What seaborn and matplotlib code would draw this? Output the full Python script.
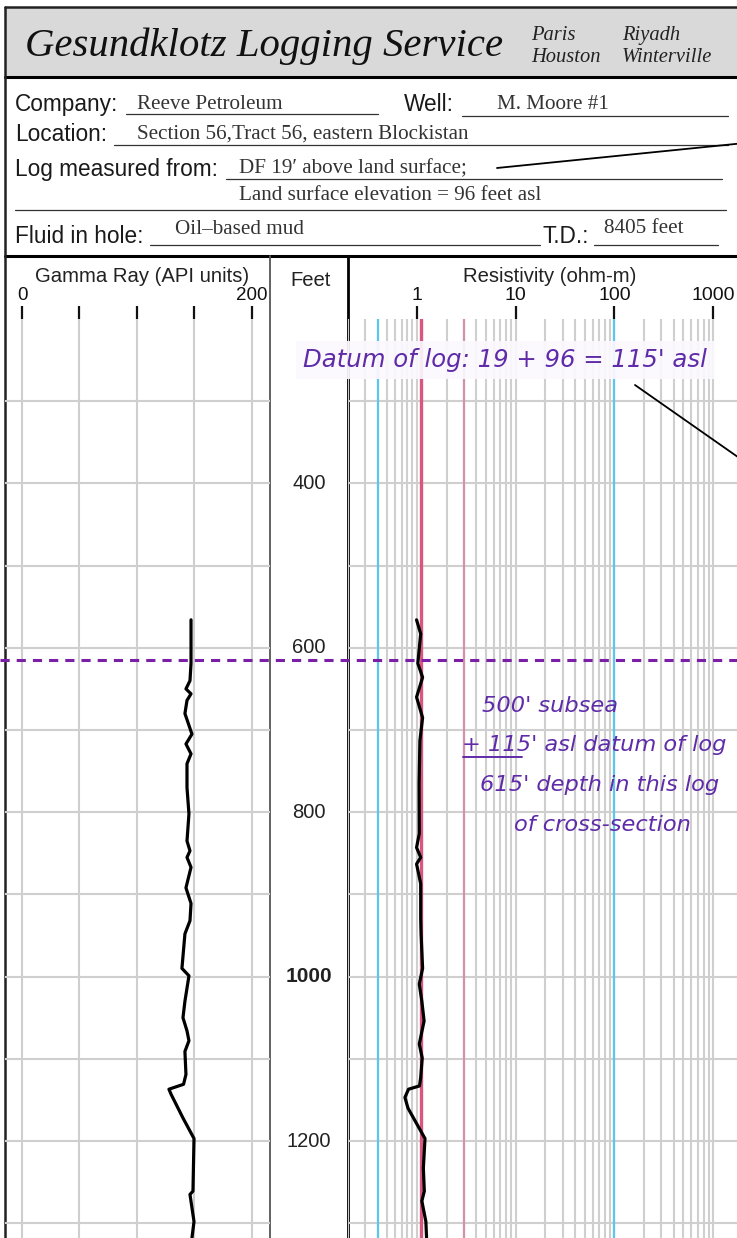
import matplotlib
matplotlib.use('Agg')
import matplotlib.pyplot as plt
import seaborn as sns
from matplotlib.ticker import LogLocator, FixedLocator, NullFormatter
from matplotlib.transforms import blended_transform_factory
from matplotlib.patches import Rectangle

# ---------------- data ----------------
gamma_depth = [566, 619, 640, 650, 656, 664, 680, 705, 717, 729, 741, 770, 802, 835, 847,
               855, 867, 892, 911, 932, 948, 990, 999, 1030, 1050, 1066, 1078, 1091, 1119,
               1131, 1137, 1143, 1172, 1197, 1261, 1265, 1298, 1318]
gamma_api = [147.0, 147.0, 146.1, 142.6, 147.0, 143.5, 141.7, 147.8, 142.6, 147.0, 143.5,
             143.5, 145.2, 143.5, 146.1, 143.5, 147.0, 142.6, 147.0, 146.1, 141.7, 139.1,
             145.2, 141.7, 140.0, 143.5, 145.2, 141.7, 142.6, 140.5, 127.8, 129.6, 140.0,
             149.6, 148.7, 146.1, 149.6, 147.8]
res_depth = [566, 583, 603, 619, 636, 660, 685, 713, 765, 826, 843, 855, 863, 887, 929, 948,
             990, 1009, 1030, 1054, 1082, 1099, 1123, 1133, 1137, 1147, 1160, 1197, 1233,
             1261, 1273, 1298, 1318]
res_ohm = [0.99, 1.09, 1.05, 1.02, 1.14, 0.99, 1.14, 1.07, 1.05, 1.055, 0.99, 1.09, 0.99,
           1.09, 1.09, 1.10, 1.14, 1.055, 1.12, 1.18, 1.055, 1.13, 1.09, 1.06, 0.82, 0.755,
           0.81, 1.205, 1.16, 1.186, 1.12, 1.23, 1.25]

depth_labels = [400, 600, 800, 1000, 1200]
depth_grid = [300, 400, 500, 600, 700, 800, 900, 1000, 1100, 1200, 1300]
depth_range = [200, 1318]
gamma_ticks = [0, 50, 100, 150, 200]
gamma_ticklabels = ['0', '', '', '', '200']
gamma_range = [-14.8, 215.7]
res_ticks = [1, 10, 100, 1000]
res_ticklabels = ['1', '10', '100', '1000']
res_range = [0.2, 1746]
res_ref_cyan = [0.4, 100]
res_ref_red = [1.1]
res_ref_pink = [3]
marker_depth = 615

# ---------------- setup ----------------
sns.set_style('white')
plt.rcParams['font.family'] = ['Liberation Sans', 'DejaVu Sans']
SERIF = ['Liberation Serif', 'DejaVu Serif']
HAND = ['DejaVu Sans']

W, H = 737, 1238
fig = plt.figure(figsize=(W / 100, H / 100), dpi=100)
fig.patch.set_facecolor('white')


def rect(x0, y0, x1, y1):
    return [x0 / W, 1 - y1 / H, (x1 - x0) / W, (y1 - y0) / H]


GRID = '#cfcfcf'
PURPLE_T = '#5f2ba8'
PURPLE_L = '#7a1fa6'

# background / header (pixel coordinates)
bg = fig.add_axes([0, 0, 1, 1], zorder=0)
bg.set_xlim(0, W)
bg.set_ylim(H, 0)
bg.axis('off')

bg.add_patch(Rectangle((5, 7), 760, 70, facecolor='#d9d9d9', edgecolor='none'))
bg.plot([5, W + 5], [7, 7], color='#222222', lw=1.8)
bg.plot([5, W + 5], [77, 77], color='black', lw=2.2)
bg.plot([5, W + 5], [256, 256], color='black', lw=2.2)
bg.plot([5, 5], [7, H], color='#222222', lw=1.8)
bg.plot([270, 270], [256, H], color='#555555', lw=1.3)
bg.plot([348, 348], [256, H], color='black', lw=2.0)

bg.text(25, 56, 'Gesundklotz Logging Service', family=SERIF, style='italic',
        fontsize=29.3, ha='left', va='baseline', color='#111111')
SUB = dict(family=SERIF, style='italic', fontsize=14.8, va='baseline', color='#222222')
bg.text(531, 40, 'Paris', **SUB)
bg.text(531, 62, 'Houston', **SUB)
bg.text(622, 40, 'Riyadh', **SUB)
bg.text(622, 62, 'Winterville', **SUB)

LAB = dict(fontsize=16.3, va='baseline', color='#1a1a1a')
VAL = dict(family=SERIF, fontsize=15.2, va='baseline', color='#333333')
ULINE = dict(color='#333333', lw=0.9)

bg.text(15, 111, 'Company:', **LAB)
bg.text(137, 109, 'Reeve Petroleum', **VAL)
bg.plot([126, 378], [114, 114], **ULINE)
bg.text(404, 111, 'Well:', **LAB)
bg.text(497, 109, 'M. Moore #1', **VAL)
bg.plot([462, 728], [116, 116], **ULINE)

bg.text(15, 141, 'Location:', **LAB)
bg.text(137, 139, 'Section 56,Tract 56, eastern Blockistan', **VAL)
bg.plot([114, 728], [145, 145], **ULINE)

bg.text(15, 176, 'Log measured from:', **LAB)
bg.text(239, 173, 'DF 19\u2032 above land surface;', **VAL)
bg.plot([226, 722], [179, 179], **ULINE)
bg.text(239, 200, 'Land surface elevation = 96 feet asl', **VAL)
bg.plot([15, 726], [210, 210], **ULINE)

bg.text(15, 243, 'Fluid in hole:', **LAB)
bg.text(175, 234, 'Oil\u2013based mud', **VAL)
bg.plot([150, 540], [245, 245], **ULINE)
bg.text(543, 243, 'T.D.:', **LAB)
bg.text(604, 233, '8405 feet', **VAL)
bg.plot([594, 718], [245, 245], **ULINE)

# track headers
HDR = dict(fontsize=14.6, ha='center', va='center', color='#222222')
bg.text(142, 276, 'Gamma Ray (API units)', **HDR)
bg.text(311, 281, 'Feet', **HDR)
bg.text(550, 276, 'Resistivity (ohm-m)', **HDR)

# ---------------- gamma track ----------------
ax_g = fig.add_axes(rect(5, 319, 270, 1238), zorder=2)
ax_g.patch.set_alpha(0)
sns.lineplot(x=gamma_api, y=gamma_depth, orient='y', sort=False, estimator=None,
             color='black', lw=2.3, ax=ax_g)
ax_g.set_xlim(*gamma_range)
ax_g.set_ylim(depth_range[1], depth_range[0])
ax_g.set_xticks(gamma_ticks)
ax_g.set_xticklabels(gamma_ticklabels)
ax_g.set_yticks(depth_grid)
ax_g.tick_params(axis='y', left=False, right=False, labelleft=False, labelright=False)
ax_g.tick_params(axis='x', top=True, labeltop=True, bottom=False, labelbottom=False,
                 direction='out', length=9.5, width=1.6, pad=1, labelsize=13.5,
                 colors='#111111')
ax_g.grid(True, which='major', color=GRID, lw=1.5)
for s in ax_g.spines.values():
    s.set_visible(False)
ax_g.set_xlabel('')
ax_g.set_ylabel('')

# ---------------- depth track ----------------
ax_d = fig.add_axes(rect(270, 319, 348, 1238), zorder=2, sharey=ax_g)
ax_d.axis('off')
tr_d = blended_transform_factory(ax_d.transAxes, ax_d.transData)
for d in depth_labels:
    ax_d.text(0.5, d, str(d), transform=tr_d, ha='center', va='center',
              fontsize=14.5 if d != 1000 else 15,
              fontweight='bold' if d == 1000 else 'normal', color='#222222')

# ---------------- resistivity track ----------------
ax_r = fig.add_axes(rect(348, 319, 737, 1238), zorder=2, sharey=ax_g)
ax_r.patch.set_alpha(0)
ax_r.set_xscale('log')
for v in res_ref_cyan:
    ax_r.axvline(v, color='#5cc6ee', lw=1.6, zorder=1.5)
for v in res_ref_red:
    ax_r.axvline(v, color='#d9577f', lw=2.4, zorder=1.5)
for v in res_ref_pink:
    ax_r.axvline(v, color='#d690ad', lw=1.6, zorder=1.5)
sns.lineplot(x=res_ohm, y=res_depth, orient='y', sort=False, estimator=None,
             color='black', lw=2.3, ax=ax_r, zorder=3)
ax_r.set_xlim(*res_range)
ax_r.xaxis.set_major_locator(FixedLocator(res_ticks))
ax_r.set_xticklabels(res_ticklabels)
ax_r.xaxis.set_minor_locator(LogLocator(base=10, subs=range(2, 10), numticks=30))
ax_r.xaxis.set_minor_formatter(NullFormatter())
ax_r.tick_params(axis='y', left=False, right=False, labelleft=False, labelright=False)
ax_r.tick_params(axis='x', which='major', top=True, labeltop=True, bottom=False,
                 labelbottom=False, direction='out', length=9.5, width=1.6, pad=1,
                 labelsize=14, colors='#111111')
ax_r.tick_params(axis='x', which='minor', top=False, bottom=False)
ax_r.grid(True, which='major', axis='both', color=GRID, lw=1.5)
ax_r.grid(True, which='minor', axis='x', color=GRID, lw=1.5)
for s in ax_r.spines.values():
    s.set_visible(False)
ax_r.set_xlabel('')
ax_r.set_ylabel('')

# ---------------- overlay annotations ----------------
top = fig.add_axes([0, 0, 1, 1], zorder=5)
top.set_xlim(0, W)
top.set_ylim(H, 0)
top.axis('off')

tr_m = blended_transform_factory(top.transData, ax_g.transData)
top.plot([0, W], [marker_depth, marker_depth], transform=tr_m, color=PURPLE_L,
         lw=2.2, ls=(0, (3.0, 2.3)))

top.text(505, 360, "Datum of log: 19 + 96 = 115' asl", family=HAND, style='italic',
         fontsize=17.6, color=PURPLE_T, ha='center', va='center',
         bbox=dict(boxstyle='square,pad=0.3', fc='#fbf8fe', ec='none', alpha=0.92))
top.plot([497, 745], [168, 143], color='black', lw=1.3)
top.plot([635, 745], [385, 462], color='black', lw=1.3)

ANN = dict(family=HAND, style='italic', fontsize=16.2, color=PURPLE_T, va='center', ha='left')
top.text(482, 706, "500' subsea", **ANN)
top.text(462, 745, "+ 115' asl datum of log", **ANN)
top.plot([463, 522], [757, 757], color=PURPLE_T, lw=1.4)
top.text(480, 785, "615' depth in this log", **ANN)
top.text(514, 825, "of cross-section", **ANN)

fig.savefig('out.png', dpi=100)
